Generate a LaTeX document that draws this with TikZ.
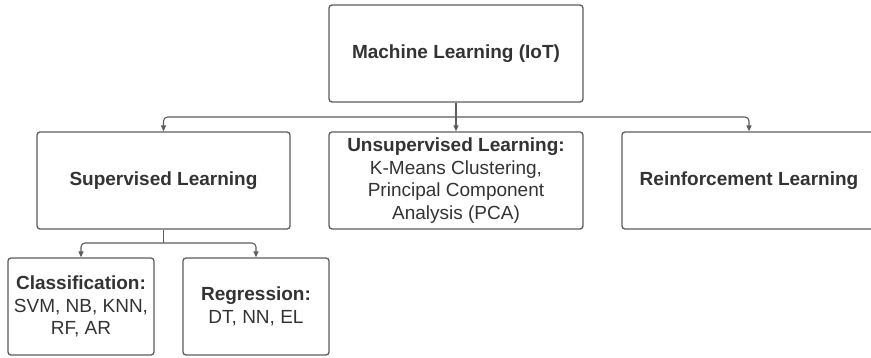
\documentclass[tikz,border=0pt]{standalone}
\usepackage{fontspec}
\setmainfont{Liberation Sans}
\usetikzlibrary{arrows.meta}
\definecolor{edge}{HTML}{5C5C5C}
\definecolor{ink}{HTML}{333333}
\tikzset{
  box/.style={draw=edge, line width=1.3pt, rounded corners=3pt, text=ink,
    align=center, inner sep=0pt,
    font=\fontsize{19}{22.5}\selectfont},
  conn/.style={draw=edge, line width=1.1pt, rounded corners=4pt},
  tip/.style={conn, -{Triangle[length=6pt,width=5pt]}}
}
\begin{document}
\begin{tikzpicture}[x=1pt,y=-1pt]
  \clip (0,0) rectangle (871,357);
  \useasboundingbox (0,0) rectangle (871,357);

  % boxes
  \node[box, minimum width=254pt, minimum height=97pt] (ml) at (456,53.5)
    {\textbf{Machine Learning (IoT)}};
  \node[box, minimum width=253pt, minimum height=97pt] (sup) at (163.5,180.5)
    {\textbf{Supervised Learning}};
  \node[box, minimum width=254pt, minimum height=97pt] (unsup) at (456,180.5)
    {\textbf{Unsupervised Learning:}\\K-Means Clustering,\\Principal Component\\Analysis (PCA)};
  \node[box, minimum width=254pt, minimum height=97pt] (rl) at (749,180.5)
    {\textbf{Reinforcement Learning}};
  \node[box, minimum width=146pt, minimum height=97pt] (cls) at (81,306.5)
    {\textbf{Classification:}\\SVM, NB, KNN,\\RF, AR};
  \node[box, minimum width=146pt, minimum height=97pt] (reg) at (256,306.5)
    {\textbf{Regression:}\\DT, NN, EL};

  % connectors from the root
  \coordinate (j1) at (456,117);
  \draw[conn] (ml.south) -- (j1);
  \draw[tip] (j1) -| (sup.north);
  \draw[tip] (j1) -- (unsup.north);
  \draw[tip] (j1) -| (rl.north);

  % connectors below supervised learning
  \coordinate (j2) at (163.5,243);
  \draw[conn] (sup.south) -- (j2);
  \draw[tip] (j2) -| (cls.north);
  \draw[tip] (j2) -| (reg.north);
\end{tikzpicture}
\end{document}
